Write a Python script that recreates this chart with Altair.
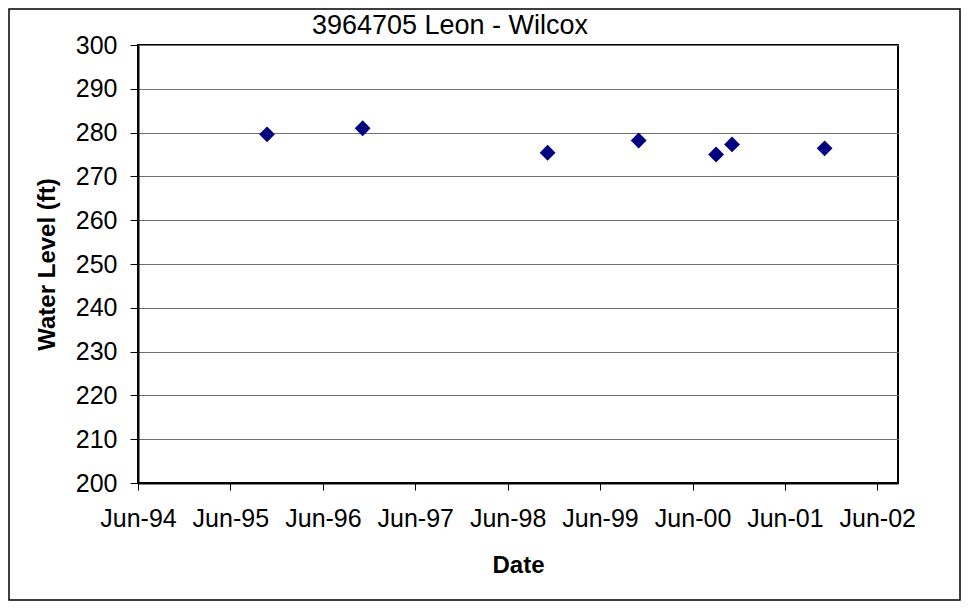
import altair as alt
import pandas as pd

# Data
dates = ["1995-10-24", "1996-11-05", "1998-11-06", "1999-11-01",
         "2000-09-02", "2000-11-04", "2001-11-05"]
levels = [279.6, 281.0, 275.4, 278.2, 275.0, 277.3, 276.4]

tick_years = [1994, 1995, 1996, 1997, 1998, 1999, 2000, 2001, 2002]
y_ticks = [200, 210, 220, 230, 240, 250, 260, 270, 280, 290, 300]

df = pd.DataFrame({"date": pd.to_datetime(dates), "level": levels})

FONT = "Liberation Sans"
W, H = 760, 438
PAD = {"left": 130, "top": 37, "right": 63, "bottom": 118}

x_enc = alt.X(
    "date:T",
    scale=alt.Scale(domain=[alt.DateTime(year=1994, month=6, date=1),
                            alt.DateTime(year=2002, month=8, date=22)]),
    axis=alt.Axis(
        values=[alt.DateTime(year=y, month=6, date=1) for y in tick_years],
        format="%b-%y", title="Date", grid=False,
        tickSize=7, tickColor="black", tickWidth=1,
        domainColor="black", domainWidth=2,
        labelFont=FONT, labelFontSize=25, labelColor="black", labelPadding=16,
        labelFlush=False, labelOverlap=False,
        titleFont=FONT, titleFontSize=24, titleFontWeight="bold", titleColor="black",
        titlePadding=22,
    ),
)

y_enc = alt.Y(
    "level:Q",
    scale=alt.Scale(domain=[200, 300], nice=False, zero=False),
    axis=alt.Axis(
        values=y_ticks, title="Water Level (ft)", grid=True,
        gridColor="#707070", gridWidth=1,
        tickSize=8, tickColor="black", tickWidth=1,
        domainColor="black", domainWidth=2,
        labelFont=FONT, labelFontSize=25, labelColor="black", labelPadding=13,
        labelFlush=False,
        titleFont=FONT, titleFontSize=24, titleFontWeight="bold", titleColor="black",
        titlePadding=16,
    ),
)

points = alt.Chart(df).mark_point(
    shape="diamond", filled=True, size=250, color="#000080", opacity=1
).encode(x=x_enc, y=y_enc)

frame = alt.Chart(alt.Data(values=[{"a": 1}])).mark_rect(
    fillOpacity=0, stroke="black", strokeWidth=1.5
).encode(
    x=alt.value(-PAD["left"] + 1),
    x2=alt.value(W + PAD["right"] - 1),
    y=alt.value(-PAD["top"] + 1),
    y2=alt.value(H + PAD["bottom"] - 1),
)

chart = alt.layer(frame, points).properties(
    width=W, height=H,
    autosize=alt.AutoSizeParams(type="none"),
    padding=PAD,
    background="white",
    title=alt.TitleParams(
        "3964705 Leon - Wilcox", font=FONT, fontSize=27, fontWeight="normal",
        color="black", anchor="middle", dx=-68, dy=36, offset=4,
    ),
).configure_view(stroke="black", strokeWidth=2)

chart.save("out.html", embed_options={"renderer": "svg", "actions": False})
